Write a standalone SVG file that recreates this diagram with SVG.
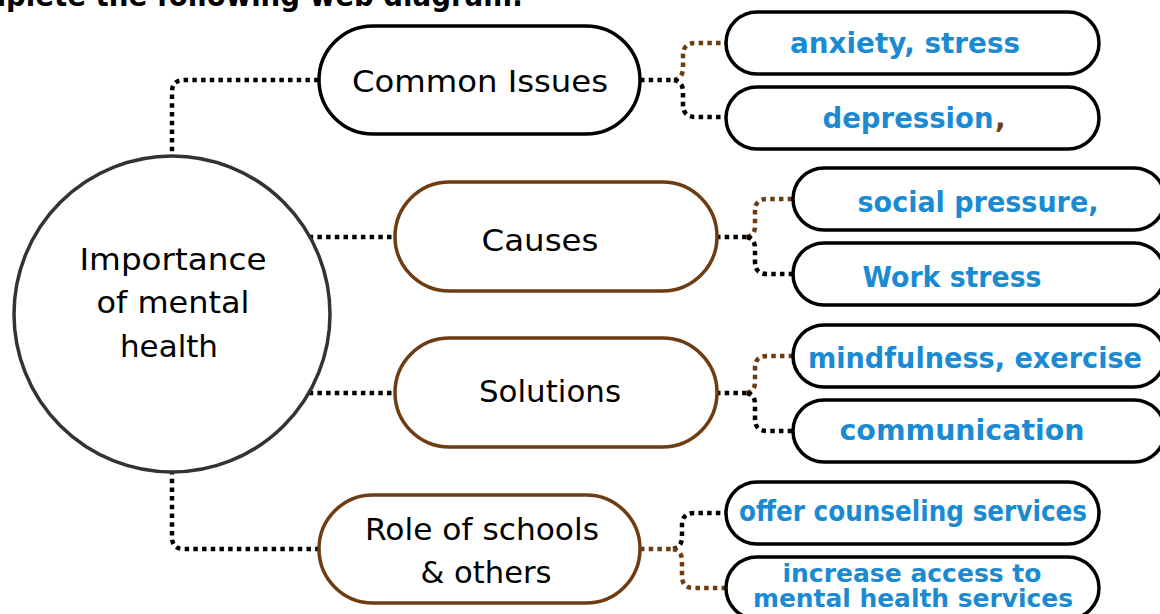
<svg xmlns="http://www.w3.org/2000/svg" width="1160" height="614" viewBox="0 0 1160 614">
<style>
.bg{fill:#ffffff}
.dot{fill:none;stroke-width:4.5;stroke-dasharray:4.5 4.2;stroke-linecap:butt;stroke-linejoin:round}
.k{stroke:#000000}
.b{stroke:#6e3c12}
.hub{fill:#ffffff;stroke:#333333;stroke-width:3.5}
.p1k{fill:#ffffff;stroke:#000000;stroke-width:3.5}
.p1b{fill:#ffffff;stroke:#6e3c12;stroke-width:3.5}
.leaf{fill:#ffffff;stroke:#000000;stroke-width:3.5}
.t1{font-family:"DejaVu Sans","Noto Sans",sans-serif;font-size:31px;fill:#000000;text-anchor:middle}
.t2{font-family:"DejaVu Sans","Noto Sans",sans-serif;font-weight:bold;font-size:28px;fill:#1a8bd3;text-anchor:middle}
.t3{font-family:"DejaVu Sans","Noto Sans",sans-serif;font-weight:bold;font-size:24px;fill:#1a8bd3;text-anchor:middle}
.title{font-family:"DejaVu Sans","Noto Sans",sans-serif;font-weight:bold;font-size:30px;fill:#000000}
.brn{font-family:"DejaVu Sans","Noto Sans",sans-serif;font-weight:bold;font-size:28px;fill:#6e3c12}
</style>
<rect class="bg" x="0" y="0" width="1160" height="614"/>
<text class="title" x="-62" y="6" textLength="585" lengthAdjust="spacingAndGlyphs">Complete the following web diagram:</text>

<g id="connectors">
  <path class="dot k" d="M172,160 L172,92 Q172,80 184,80 L320,80"/>
  <path class="dot k" d="M300,237 L396,237"/>
  <path class="dot k" d="M300,393 L396,393"/>
  <path class="dot k" d="M172,470 L172,537 Q172,549 184,549 L320,549"/>

  <path class="dot k" d="M640,80 L674,80"/>
  <path class="dot b" d="M674,80 Q683,78 683,68 L683,55 Q683,43 696,43 L727,43"/>
  <path class="dot k" d="M674,80 Q683,82 683,92 L683,105 Q683,117 696,117 L727,117"/>

  <path class="dot k" d="M716,237 L747,237"/>
  <path class="dot b" d="M747,237 Q755,235 755,226 L755,211 Q755,199 767,199 L794,199"/>
  <path class="dot k" d="M747,237 Q755,239 755,248 L755,262 Q755,274 767,274 L794,274"/>

  <path class="dot k" d="M716,393 L747,393"/>
  <path class="dot b" d="M747,393 Q755,391 755,382 L755,368 Q755,356 767,356 L794,356"/>
  <path class="dot k" d="M747,393 Q755,395 755,404 L755,419 Q755,431 767,431 L794,431"/>

  <path class="dot b" d="M640,549 L673,549"/>
  <path class="dot k" d="M673,549 Q682,547 682,537 L682,525 Q682,513 694,513 L727,513"/>
  <path class="dot b" d="M673,549 Q682,551 682,561 L682,576 Q682,588 694,588 L727,588"/>
</g>

<g id="hub">
  <circle class="hub" cx="172" cy="314" r="158"/>
  <text class="t1" x="173" y="270" textLength="187" lengthAdjust="spacingAndGlyphs">Importance</text>
  <text class="t1" x="173" y="313" textLength="153" lengthAdjust="spacingAndGlyphs">of mental</text>
  <text class="t1" x="169" y="357" textLength="98" lengthAdjust="spacingAndGlyphs">health</text>
</g>

<g id="common-issues">
  <rect class="p1k" x="319" y="26" width="321" height="108" rx="54"/>
  <text class="t1" x="480" y="92" textLength="256" lengthAdjust="spacingAndGlyphs">Common Issues</text>
</g>
<g id="causes">
  <rect class="p1b" x="395" y="182" width="322" height="109" rx="54.5"/>
  <text class="t1" x="540" y="251" textLength="117" lengthAdjust="spacingAndGlyphs">Causes</text>
</g>
<g id="solutions">
  <rect class="p1b" x="395" y="338" width="322" height="109" rx="54.5"/>
  <text class="t1" x="550" y="402" textLength="142" lengthAdjust="spacingAndGlyphs">Solutions</text>
</g>
<g id="role">
  <rect class="p1b" x="319" y="495" width="321" height="108" rx="54"/>
  <text class="t1" x="482" y="540" textLength="234" lengthAdjust="spacingAndGlyphs">Role of schools</text>
  <text class="t1" x="486" y="583" textLength="131" lengthAdjust="spacingAndGlyphs">&amp; others</text>
</g>

<g id="leaf-anxiety">
  <rect class="leaf" x="726" y="12" width="373" height="62" rx="31"/>
  <text class="t2" x="905" y="53" textLength="230" lengthAdjust="spacingAndGlyphs">anxiety,  stress</text>
</g>
<g id="leaf-depression">
  <rect class="leaf" x="726" y="87" width="373" height="62" rx="31"/>
  <text class="t2" x="908" y="128" textLength="171" lengthAdjust="spacingAndGlyphs">depression</text>
  <text class="brn" x="995" y="128">,</text>
</g>
<g id="leaf-social">
  <rect class="leaf" x="793" y="168" width="372" height="62" rx="31"/>
  <text class="t2" x="978" y="212" textLength="241" lengthAdjust="spacingAndGlyphs">social pressure,</text>
</g>
<g id="leaf-work">
  <rect class="leaf" x="793" y="243" width="372" height="62" rx="31"/>
  <text class="t2" x="952" y="287" textLength="179" lengthAdjust="spacingAndGlyphs">Work stress</text>
</g>
<g id="leaf-mindfulness">
  <rect class="leaf" x="793" y="325" width="372" height="62" rx="31"/>
  <text class="t2" x="975" y="368" textLength="334" lengthAdjust="spacingAndGlyphs">mindfulness, exercise</text>
</g>
<g id="leaf-communication">
  <rect class="leaf" x="793" y="400" width="372" height="62" rx="31"/>
  <text class="t2" x="962" y="440" textLength="245" lengthAdjust="spacingAndGlyphs">communication</text>
</g>
<g id="leaf-counseling">
  <rect class="leaf" x="726" y="482" width="373" height="62" rx="31"/>
  <text class="t2" x="913" y="521" textLength="348" lengthAdjust="spacingAndGlyphs">offer counseling services</text>
</g>
<g id="leaf-access">
  <rect class="leaf" x="726" y="557" width="373" height="62" rx="31"/>
  <text class="t3" x="912" y="582" textLength="259" lengthAdjust="spacingAndGlyphs">increase access to</text>
  <text class="t3" x="913" y="607" textLength="320" lengthAdjust="spacingAndGlyphs">mental health services</text>
</g>
</svg>
